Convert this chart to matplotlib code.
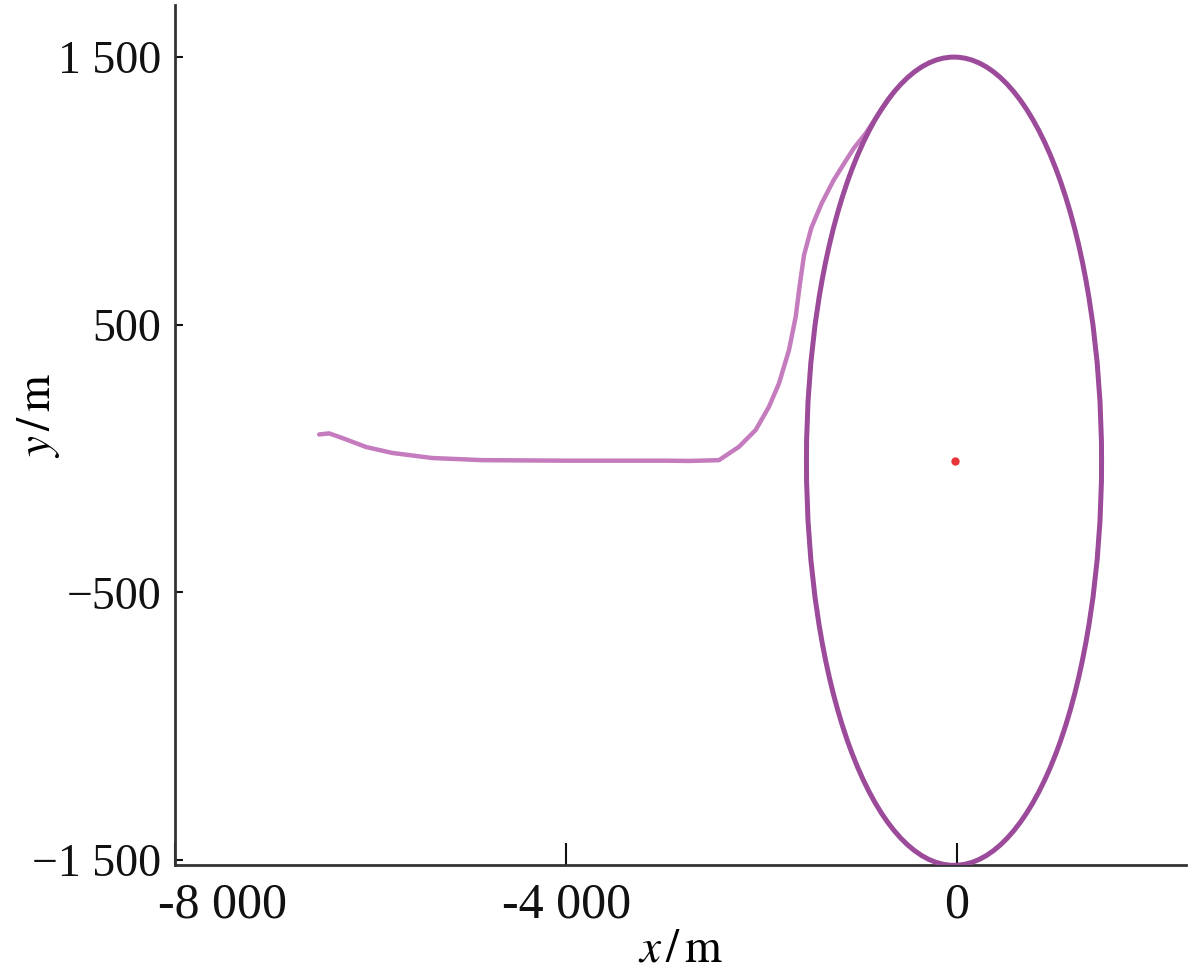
"""
Trajectory converging onto a circular orbit around the origin.
"""

import matplotlib
matplotlib.use("Agg")
import matplotlib.pyplot as plt
from matplotlib.patches import Ellipse
import matplotlib.transforms as mtransforms

# Data
trajX = [-6527, -6425, -6292, -6046, -5780, -5371, -4859, -4000, -2977, -2742,
         -2435, -2230, -2059, -1923, -1821, -1719, -1650, -1611, -1565, -1490,
         -1385, -1262, -1142, -1054, -934, -798, -665]
trajY = [90, 94, 77, 43, 21, 2, -6, -8, -8, -9,
         -6, 44, 107, 194, 281, 405, 530, 642, 760, 862,
         953, 1040, 1110, 1160, 1215, 1290, 1360]

orbitCenter = (-30, -10)
orbitWidth = 3020
orbitHeight = 3020

targetX = [-20]
targetY = [-10]

xTicks = [-8000, -4000, 0]
xTickLabels = ["-8 000", "-4 000", "0"]
yTicks = [1500, 500, -500, -1500]
yTickLabels = ["1 500", "500", "\u2212500", "\u22121 500"]

plt.rcParams["font.family"] = ["Liberation Serif", "DejaVu Serif"]
plt.rcParams["mathtext.fontset"] = "stix"

fig = plt.figure(figsize=(12, 9.8), dpi=100)
ax = fig.add_axes([0.146, 0.117, 0.842, 0.878])

ax.plot(trajX, trajY, color="#c57cbf", lw=3.2, solid_capstyle="round", zorder=2)
ax.add_patch(Ellipse(orbitCenter, orbitWidth, orbitHeight, fill=False,
                     edgecolor="#9c4a9a", lw=3.6, zorder=3))
ax.plot(targetX, targetY, "o", color="#e8353a", ms=6, mew=0, zorder=4)

ax.set_xlim(-8000, 2340)
ax.set_ylim(-1520, 1695)

for side in ["top", "right"]:
    ax.spines[side].set_visible(False)
for side in ["left", "bottom"]:
    ax.spines[side].set_linewidth(2)
    ax.spines[side].set_color("#333333")

ax.set_xticks(xTicks)
ax.set_xticklabels(xTickLabels, fontsize=36)
ax.set_yticks(yTicks)
ax.set_yticklabels(yTickLabels, fontsize=33)
ax.tick_params(axis="x", direction="in", length=16, width=1.5, pad=12, colors="#111111")
ax.tick_params(axis="y", direction="in", length=6, width=1.5, pad=10, colors="#111111")

# first x label is pushed right in the reference
lbl = ax.get_xticklabels()[0]
lbl.set_horizontalalignment("left")
lbl.set_transform(lbl.get_transform() + mtransforms.ScaledTranslation(-17 / 100, 0, fig.dpi_scale_trans))

ax.set_xlabel(r"$x\,/\,\mathrm{m}$", fontsize=34, labelpad=0)
ax.set_ylabel(r"$y\,/\,\mathrm{m}$", fontsize=34)
ax.yaxis.set_label_coords(-0.112, 0.523)

fig.savefig("out.png", dpi=100)
